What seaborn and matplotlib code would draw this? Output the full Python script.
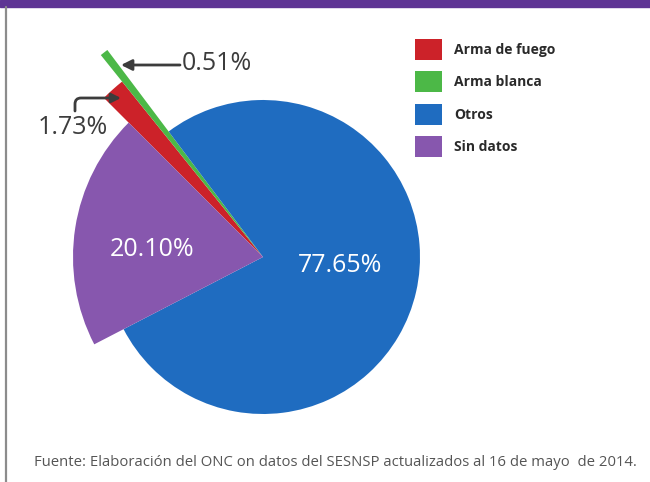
import matplotlib
matplotlib.use("Agg")
import matplotlib.pyplot as plt
import seaborn as sns
from matplotlib.patches import Rectangle

# Data
labels = ["Arma de fuego", "Arma blanca", "Otros", "Sin datos"]
values = [1.73, 0.51, 77.65, 20.10]
pct_text = ["1.73%", "0.51%", "77.65%", "20.10%"]
colors = ["#CC2229", "#4CB847", "#1F6CC0", "#8757AE"]

# each slice drawn with its own radius (px)
radii = [225, 259, 157, 190]

sns.set_theme(style="white")
plt.rcParams["font.family"] = ["Open Sans", "DejaVu Sans"]

W, H = 650, 482
fig = plt.figure(figsize=(6.5, 4.82), dpi=100)
ax = fig.add_axes([0, 0, 1, 1])

cx, cy = 263, H - 257
wedges, _ = ax.pie(values, colors=colors, startangle=135, counterclock=False,
                   center=(cx, cy), radius=157,
                   wedgeprops=dict(linewidth=0))
for w, r in zip(wedges, radii):
    w.set_radius(r)

ax.set_xlim(0, W)
ax.set_ylim(0, H)
ax.set_aspect("equal")
ax.axis("off")

# header bar and left border
ax.add_patch(Rectangle((0, H - 7), W, 7, color="#5E3494", zorder=5))
ax.plot([5.5, 5.5], [0, H - 7], color="#8C8C8C", lw=1.6, zorder=5)

# labels inside
ax.text(340, H - 266, pct_text[2], color="white", fontsize=18,
        ha="center", va="center")
ax.text(152, H - 250, pct_text[3], color="white", fontsize=18,
        ha="center", va="center")

# labels outside with arrows
dark = "#3C3C3C"
ax.text(217, H - 64, pct_text[1], color=dark, fontsize=18,
        ha="center", va="center")
ax.annotate("", xy=(121, H - 65), xytext=(180, H - 65),
            arrowprops=dict(arrowstyle="-|>", color=dark, lw=2,
                            mutation_scale=16, shrinkA=0, shrinkB=0))
ax.text(73, H - 128, pct_text[0], color=dark, fontsize=18,
        ha="center", va="center")
ax.annotate("", xy=(121, H - 98), xytext=(75, H - 111),
            arrowprops=dict(arrowstyle="-|>", color=dark, lw=2,
                            mutation_scale=14, shrinkA=0, shrinkB=0,
                            connectionstyle="angle,angleA=90,angleB=0,rad=6"))

# legend
leg = ax.legend(wedges, labels, loc="upper left",
                bbox_to_anchor=(408 / W, 1 - 32 / H),
                frameon=False, fontsize=10, borderpad=0,
                handlelength=1.95, handleheight=1.95,
                labelspacing=0.82, handletextpad=0.85)
for t in leg.get_texts():
    t.set_fontweight("bold")
    t.set_color("#2A2A2A")

# source
ax.text(335, H - 462,
        "Fuente: Elaboración del ONC on datos del SESNSP actualizados al 16 de mayo  de 2014.",
        color="#555555", fontsize=10.75, ha="center", va="center")

fig.savefig("out.png", dpi=100)
